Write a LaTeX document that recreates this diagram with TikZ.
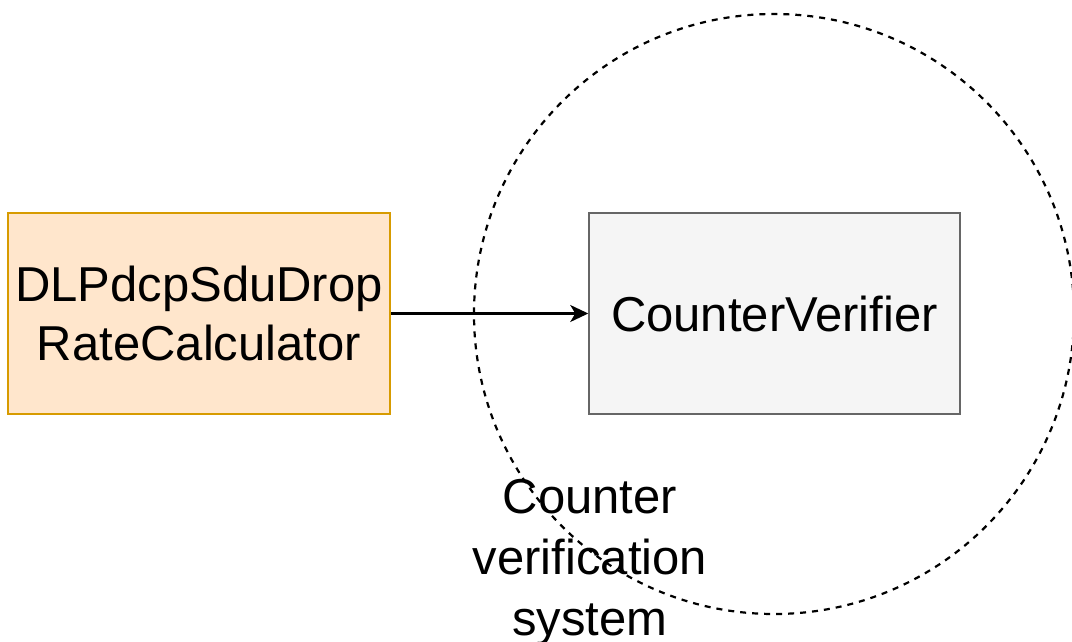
\documentclass[tikz,border=0pt]{standalone}
\usepackage{fontspec}
\setmainfont{Liberation Sans}
\usetikzlibrary{arrows.meta}
\definecolor{calcfill}{HTML}{FFE6CC}
\definecolor{calcline}{HTML}{D79B00}
\definecolor{verfill}{HTML}{F5F5F5}
\definecolor{verline}{HTML}{666666}
\tikzset{
  block/.style={draw, line width=1.5pt, inner sep=0pt, align=center,
    font=\fontsize{49}{59}\selectfont},
  calcbox/.style={block, fill=calcfill, draw=calcline,
    minimum width=382pt, minimum height=201pt},
  verbox/.style={block, fill=verfill, draw=verline,
    minimum width=371pt, minimum height=201pt},
  boundary/.style={draw, circle, dashed, dash pattern=on 6pt off 6pt,
    line width=2.2pt, inner sep=0pt, minimum size=600pt},
  label/.style={align=center, font=\fontsize{49}{61}\selectfont, inner sep=0pt},
  flow/.style={-{Stealth[length=18pt, width=17pt, inset=5pt]}, line width=2.2pt}
}
\begin{document}
\begin{tikzpicture}[x=1pt, y=-1pt]
  \useasboundingbox (0,0) rectangle (1072,642);
  \clip (0,0) rectangle (1072,642);
  \fill[white] (0,0) rectangle (1072,642);
  % dashed system boundary
  \node[boundary] (sys) at (774,314) {};
  % components
  \node[calcbox] (calc) at (199,313.5) {DLPdcpSduDrop\\RateCalculator};
  \node[verbox] (ver) at (774.5,313.5) {CounterVerifier};
  \node[label] (syslabel) at (590,562) {Counter\\verification\\system};
  % data flow
  \draw[flow] (calc.east) -- (ver.west);
\end{tikzpicture}
\end{document}
